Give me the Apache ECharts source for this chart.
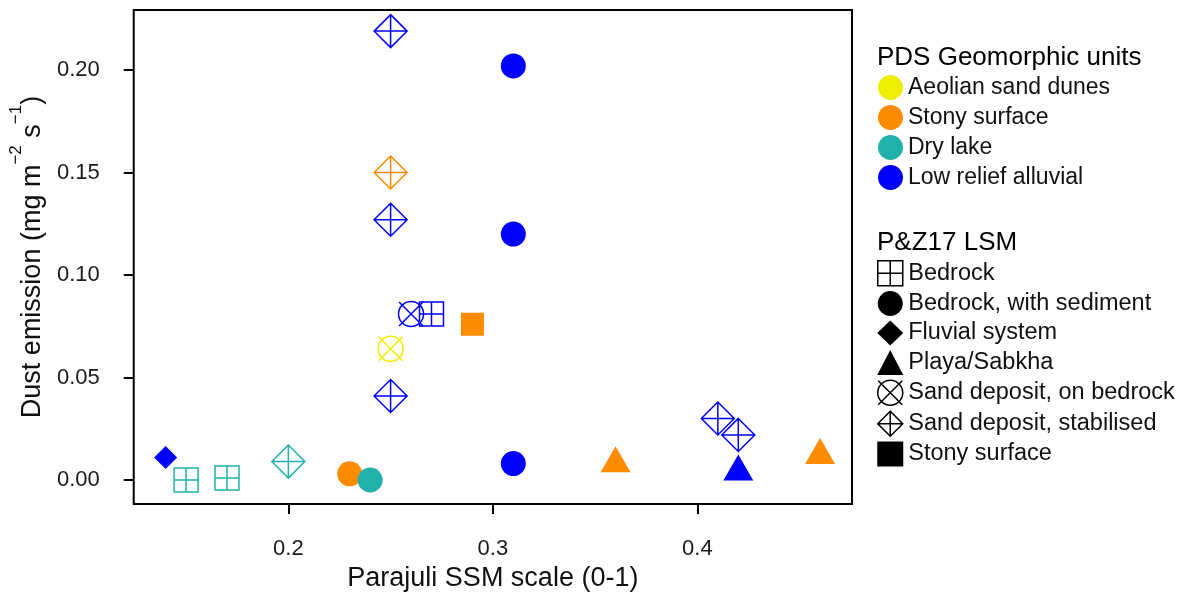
<!DOCTYPE html>
<html>
<head>
<meta charset="utf-8">
<script src="https://cdn.jsdelivr.net/npm/echarts@6/dist/echarts.min.js"></script>
<style>
html,body{margin:0;padding:0;background:#fff;}
#chart{width:1190px;height:597px;}
</style>
</head>
<body>
<div id="chart"></div>
<script>
// ---- data ----
const ssm  = [0.25, 0.31, 0.25, 0.31, 0.26, 0.27, 0.25, 0.31, 0.41, 0.42, 0.42, 0.14, 0.25, 0.29, 0.23, 0.36, 0.46, 0.25, 0.15, 0.17, 0.20, 0.24];
const dust = [0.219, 0.202, 0.127, 0.120, 0.081, 0.081, 0.041, 0.008, 0.030, 0.022, 0.004, 0.011, 0.150, 0.076, 0.003, 0.008, 0.012, 0.064, 0.000, 0.001, 0.009, 0.000];
const unit = ['Low relief alluvial','Low relief alluvial','Low relief alluvial','Low relief alluvial','Low relief alluvial','Low relief alluvial','Low relief alluvial','Low relief alluvial','Low relief alluvial','Low relief alluvial','Low relief alluvial','Low relief alluvial',
  'Stony surface','Stony surface','Stony surface','Stony surface','Stony surface',
  'Aeolian sand dunes',
  'Dry lake','Dry lake','Dry lake','Dry lake'];
const lsm = ['Sand deposit, stabilised','Bedrock, with sediment','Sand deposit, stabilised','Bedrock, with sediment','Sand deposit, on bedrock','Bedrock','Sand deposit, stabilised','Bedrock, with sediment','Sand deposit, stabilised','Sand deposit, stabilised','Playa/Sabkha','Fluvial system',
  'Sand deposit, stabilised','Stony surface','Bedrock, with sediment','Playa/Sabkha','Playa/Sabkha',
  'Sand deposit, on bedrock',
  'Bedrock','Bedrock','Sand deposit, stabilised','Bedrock, with sediment'];

const unitNames = ['Aeolian sand dunes','Stony surface','Dry lake','Low relief alluvial'];
const unitColors = ['#EEEE00','#FF8C00','#20B2AA','#0000FF'];
const lsmNames = ['Bedrock','Bedrock, with sediment','Fluvial system','Playa/Sabkha','Sand deposit, on bedrock','Sand deposit, stabilised','Stony surface'];
const xTicks = [0.2, 0.3, 0.4];
const yTicks = [0.00, 0.05, 0.10, 0.15, 0.20];

// ---- symbol styles ----
const P_SQPLUS = 'path://M0,0L10,0L10,10L0,10Z M5,0L5,10 M0,5L10,5';
const P_CIRCX  = 'path://M10,5A5,5,0,1,1,0,5A5,5,0,1,1,10,5Z M0.2,0.2L9.8,9.8 M9.8,0.2L0.2,9.8';
const P_DIAPLUS= 'path://M5,0L10,5L5,10L0,5Z M5,0L5,10 M0,5L10,5';
const shapes = {
  'Bedrock':                  {symbol: P_SQPLUS, size: 24, open: true},
  'Bedrock, with sediment':   {symbol: 'circle', size: 25, open: false},
  'Fluvial system':           {symbol: 'diamond', size: 23, open: false},
  'Playa/Sabkha':             {symbol: 'triangle', size: [30, 26], open: false, offset: [0, '-17%']},
  'Sand deposit, on bedrock': {symbol: P_CIRCX, size: 25, open: true},
  'Sand deposit, stabilised': {symbol: P_DIAPLUS, size: 33, open: true},
  'Stony surface':            {symbol: 'rect', size: 23, open: false}
};
function styleFor(open, color) {
  return open ? {color: 'rgba(0,0,0,0)', borderColor: color, borderWidth: 1.5, opacity: 1}
              : {color: color, borderWidth: 0, opacity: 1};
}

const series = [];
unitNames.forEach((u, ui) => {
  lsmNames.forEach(l => {
    const pts = [];
    for (let i = 0; i < ssm.length; i++) {
      if (unit[i] === u && lsm[i] === l) pts.push([ssm[i], dust[i]]);
    }
    if (!pts.length) return;
    const s = shapes[l];
    series.push({
      name: 'data ' + u + ' / ' + l,
      type: 'scatter',
      data: pts,
      symbol: s.symbol,
      symbolSize: s.size,
      symbolOffset: s.offset || [0, 0],
      itemStyle: styleFor(s.open, unitColors[ui]),
      emphasis: {disabled: true},
      z: 3
    });
  });
});
// legend-only series
unitNames.forEach((u, ui) => {
  series.push({name: 'u:' + u, type: 'scatter', data: [], symbol: 'circle',
    itemStyle: {color: unitColors[ui], opacity: 1}});
});
lsmNames.forEach(l => {
  const s = shapes[l];
  series.push({name: 's:' + l, type: 'scatter', data: [], symbol: s.symbol,
    itemStyle: styleFor(s.open, '#000')});
});

const font = 'Liberation Sans, Arial, sans-serif';
const strip = n => n.replace(/^[us]:/, '');

const option = {
  backgroundColor: '#fff',
  animation: false,
  textStyle: {fontFamily: font},
  title: [
    {text: 'PDS Geomorphic units', left: 877, top: 45, padding: 0,
      textStyle: {fontFamily: font, fontSize: 26, fontWeight: 'normal', color: '#000'}},
    {text: 'P&Z17 LSM', left: 877, top: 230, padding: 0,
      textStyle: {fontFamily: font, fontSize: 26, fontWeight: 'normal', color: '#000'}}
  ],
  grid: {left: 132, top: 10, width: 720, height: 494, show: true,
    borderColor: '#000', borderWidth: 2, backgroundColor: 'transparent'},
  xAxis: {
    type: 'value', min: 0.1244, max: 0.4756,
    axisLine: {show: false, onZero: false},
    splitLine: {show: false},
    axisTick: {show: true, inside: false, length: 10, customValues: xTicks,
      lineStyle: {color: '#000', width: 2}},
    axisLabel: {customValues: xTicks, margin: 34, fontSize: 22, color: '#1a1a1a',
      fontFamily: font, formatter: v => v.toFixed(1)},
    name: 'Parajuli SSM scale (0-1)', nameLocation: 'middle', nameGap: 58,
    nameTextStyle: {fontSize: 27, color: '#111', fontFamily: font}
  },
  yAxis: {
    type: 'value', min: -0.0117, max: 0.2293,
    axisLine: {show: false, onZero: false},
    splitLine: {show: false},
    axisTick: {show: true, inside: false, length: 10, customValues: yTicks,
      lineStyle: {color: '#000', width: 2}},
    axisLabel: {customValues: yTicks, margin: 34, fontSize: 22, color: '#1a1a1a',
      fontFamily: font, formatter: v => v.toFixed(2)},
    name: '{a|Dust emission (mg m}{s|\u22122}{a| s}{s|\u22121}{a|)}',
    nameLocation: 'middle', nameRotate: 90, nameGap: 84,
    nameTextStyle: {
      fontFamily: font, color: '#111',
      rich: {
        a: {fontSize: 27, lineHeight: 30, verticalAlign: 'bottom', fontFamily: font, color: '#111'},
        s: {fontSize: 17, lineHeight: 17, verticalAlign: 'bottom', padding: [0, 0, 21, 0], fontFamily: font, color: '#111'}
      }
    }
  },
  legend: [
    {
      orient: 'vertical', left: 878, top: 75, padding: 0,
      itemWidth: 25, itemHeight: 25, itemGap: 5, selectedMode: false,
      formatter: strip,
      textStyle: {fontSize: 23, color: '#111', fontFamily: font, lineHeight: 25},
      data: unitNames.map((u, ui) => ({name: 'u:' + u, icon: 'circle',
        itemStyle: {color: unitColors[ui], borderWidth: 0, opacity: 1}}))
    },
    {
      orient: 'vertical', left: 877, top: 260, padding: 0,
      itemWidth: 26, itemHeight: 25, itemGap: 4.5, selectedMode: false,
      formatter: strip,
      textStyle: {fontSize: 23.5, color: '#111', fontFamily: font, lineHeight: 25},
      data: lsmNames.map(l => {
        const s = shapes[l];
        return {name: 's:' + l, icon: s.symbol,
          itemStyle: s.open ? {color: 'rgba(0,0,0,0)', borderColor: '#000', borderWidth: 1.5, opacity: 1}
                            : {color: '#000', borderWidth: 0, opacity: 1}};
      })
    }
  ],
  series: series
};

const chart = echarts.init(document.getElementById('chart'), null, {renderer: 'canvas'});
chart.setOption(option);
</script>
</body>
</html>
